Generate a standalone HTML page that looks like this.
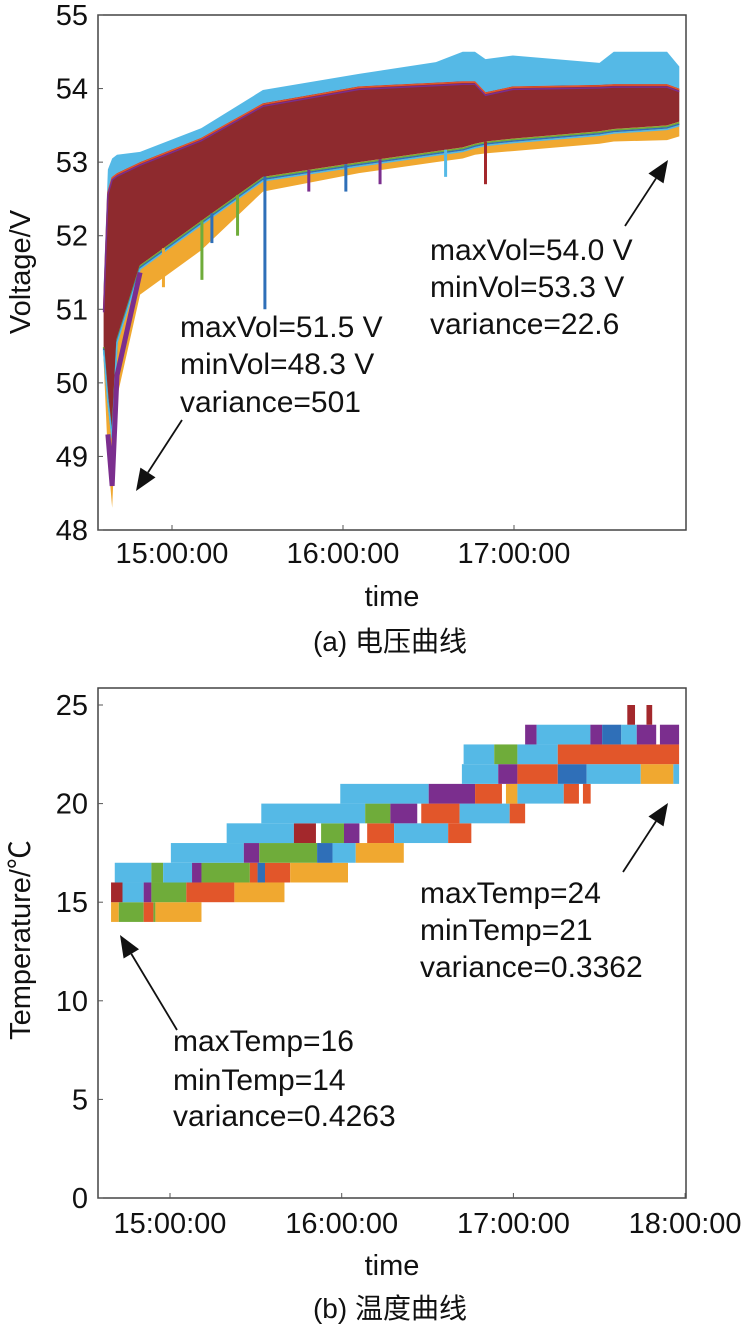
<!DOCTYPE html>
<html><head><meta charset="utf-8"><style>
body{margin:0;background:#fff;width:746px;height:1331px;overflow:hidden}
svg text{font-family:"Liberation Sans","Noto Sans CJK SC",sans-serif;fill:#111}
</style></head><body>
<svg id="s" width="746" height="1331"></svg>
<script>
// ---- Voltage chart data (minutes after 14:00) ----
const vTime   = [36,37.5,39,40.7,48.8,70.2,91.9,125.6,152.6,162,166.3,170,179.6,210,215,233.7,238];
const vUpper  = [51.3,52.9,53.05,53.1,53.14,53.46,53.98,54.2,54.36,54.5,54.5,54.4,54.45,54.35,54.5,54.5,54.3];
const vBandTop= [51.0,52.6,52.8,52.85,53.0,53.33,53.8,54.03,54.08,54.1,54.1,53.95,54.03,54.05,54.06,54.06,54.0];
const vBandBot= [50.5,49.8,49.3,50.6,51.6,52.2,52.8,53.0,53.15,53.2,53.25,53.28,53.32,53.42,53.45,53.5,53.55];
const vLower  = [50.3,49.0,48.3,49.8,51.2,51.8,52.6,52.85,53.0,53.05,53.1,53.12,53.15,53.25,53.28,53.3,53.35];
const spikeT  = [57,70.5,74,83,92.6,108,121,133,156,170];
const spikeV  = [51.3,51.4,51.9,52.0,51.0,52.6,52.6,52.7,52.8,52.7];
const spikeC  = ["#f0a830","#6fac3a","#2f6fb8","#6fac3a","#2f6fb8","#7b2e8e","#2f6fb8","#7b2e8e","#55b9e6","#a3282c"];
const vTicks  = [48,49,50,51,52,53,54,55];
const tTicksA = ["15:00:00","16:00:00","17:00:00"];
// ---- Temperature chart data: [startMin, endMin, colorIndex] per 1°C row ----
const tempColors=["#55b9e6","#f0a830","#6fac3a","#e2562a","#a3282c","#7b2e8e","#2f6fb8"];
const tempLevels=[14,15,16,17,18,19,20,21,22,23,24];
const tempRows=[
 [[39.4,42.1,1],[42.1,50.8,2],[50.8,54.2,3],[54.2,54.9,2],[54.9,71.0,1]],
 [[39.4,43.4,4],[43.4,50.8,0],[50.8,53.5,5],[53.5,65.7,2],[65.7,82.5,3],[82.5,100,1]],
 [[40.7,53.5,0],[53.5,57.6,2],[57.6,67.7,0],[67.7,71,5],[71,87.9,2],[87.9,90.6,3],[90.6,93.2,6],[93.2,102,3],[102,122.2,1]],
 [[60.3,85.8,0],[85.8,91.2,5],[91.2,111.4,2],[111.4,116.8,6],[116.8,124.9,0],[124.9,141.7,1]],
 [[79.8,103.3,0],[103.3,111,4],[112.8,120.8,2],[120.8,126.2,5],[128.9,138.3,3],[138.3,157.2,0],[157.2,165.3,3]],
 [[91.9,128.2,0],[128.2,137,2],[137,146.4,5],[147.8,161.2,3],[161.2,178.7,0],[178.7,184.1,3]],
 [[119.5,150.4,0],[150.4,166.6,5],[166.6,176,3],[177.4,181.4,1],[181.4,197.6,0],[197.6,202.9,3],[204.3,207,3]],
 [[162,174.7,0],[174.7,181.4,5],[181.4,195.5,3],[195.5,205.6,6],[205.6,224.5,0],[224.5,235.9,1],[235.9,237.9,0]],
 [[162.6,173.3,0],[173.3,181.4,2],[181.4,195.5,0],[195.5,237.9,3]],
 [[184.1,188.1,5],[188.1,206.9,0],[206.9,211,5],[211,217.7,6],[217.7,223.1,0],[223.1,229.9,5],[231.2,237.9,5]],
 [[219.8,222.5,4],[226.5,228.5,4]]
];
const tempTicks=[0,5,10,15,20,25];
const tTicksB=["15:00:00","16:00:00","17:00:00","18:00:00"];

const NS="http://www.w3.org/2000/svg", S=document.getElementById('s');
const FS=29, AFS=30;
function el(t,a,p){const e=document.createElementNS(NS,t);for(const k in a)e.setAttribute(k,a[k]);(p||S).appendChild(e);return e;}
function txt(x,y,s,size,anchor,p){const e=el('text',{x:x,y:y,'font-size':size,'text-anchor':anchor||'start'},p);e.textContent=s;return e;}

// ===== Chart A =====
const A={l:98,r:686,t:15,b:530};
const xA=m=>172+(m-60)/60*171;
const yA=v=>A.b-(v-48)/7*(A.b-A.t);
const gA=el('g',{});


function band(up,lo,color,name){
  let pts=vTime.map((t,i)=>xA(t)+','+yA(up[i]));
  pts=pts.concat(vTime.slice().reverse().map((t,j)=>{const i=vTime.length-1-j;return xA(t)+','+yA(lo[i]);}));
  const p=el('polygon',{points:pts.join(' '),fill:color},gA);
  
  
}
band(vUpper,vBandTop,"#55b9e6","voltage-upper-band");
band(vBandBot,vLower,"#f0a830","voltage-lower-band");
band(vBandTop,vBandBot,"#8e2a2e","voltage-main-band");
const edgeCols=["#e2562a","#7b2e8e"];
edgeCols.forEach((c,k)=>{const l=el('polyline',{points:vTime.map((t,i)=>xA(t)+','+(yA(vBandTop[i])+1+k*2)).join(' '),fill:'none',stroke:c,'stroke-width':1.5},gA);
 });
["#6fac3a","#2f6fb8","#55b9e6"].forEach((c,k)=>{const l=el('polyline',{points:vTime.map((t,i)=>xA(t)+','+(yA(vBandBot[i])+1+k*1.5)).join(' '),fill:'none',stroke:c,'stroke-width':1.5},gA);
 });
const pv=el('polyline',{points:vTime.slice(1,5).map((t,i)=>xA(t)+','+yA(vLower[i+1]+0.3)).join(' '),fill:'none',stroke:'#7b2e8e','stroke-width':5},gA);

spikeT.forEach((t,i)=>{
  let k=0;while(k<vTime.length-1&&vTime[k+1]<t)k++;
  const f=(t-vTime[k])/(vTime[k+1]-vTime[k]);const base=vBandBot[k]+(vBandBot[k+1]-vBandBot[k])*f;
  const s=el('line',{x1:xA(t),x2:xA(t),y1:yA(base),y2:yA(spikeV[i]),stroke:spikeC[i],'stroke-width':3},gA);
  
});
const fa=el('rect',{x:A.l,y:A.t,width:A.r-A.l,height:A.b-A.t,fill:'none',stroke:'#444','stroke-width':1.5});

vTicks.forEach(v=>{const y=yA(v);
  const tk=el('line',{x1:A.l,x2:A.l+5,y1:y,y2:y,stroke:'#555'});
  const t=txt(88,y+10,String(v),FS,'end');});
tTicksA.forEach((s,i)=>{const x=xA(60+i*60);
  const tk=el('line',{x1:x,x2:x,y1:A.b,y2:A.b-5,stroke:'#555'});
  const t=txt(x,563,s,FS,'middle');});
let t=txt(392,606,'time',FS,'middle');
t=txt(0,0,'Voltage/V',FS,'middle');t.setAttribute('transform','translate(30,272) rotate(-90)');
t=txt(390,651,'(a) 电压曲线',FS-1,'middle');
[['maxVol=51.5 V',337],['minVol=48.3 V',374],['variance=501',412]].forEach(a=>{const e=txt(180,a[1],a[0],AFS);});
[['maxVol=54.0 V',260],['minVol=53.3 V',297],['variance=22.6',334]].forEach(a=>{const e=txt(430,a[1],a[0],AFS);});
function arrow(x1,y1,x2,y2,name){
  const g=el('g',{});
  const ang=Math.atan2(y2-y1,x2-x1),L=22,W=9;
  const bx=x2-L*Math.cos(ang),by=y2-L*Math.sin(ang);
  el('line',{x1:x1,y1:y1,x2:bx,y2:by,stroke:'#111','stroke-width':1.8},g);
  el('polygon',{points:`${x2},${y2} ${bx-W*Math.sin(ang)},${by+W*Math.cos(ang)} ${bx+W*Math.sin(ang)},${by-W*Math.cos(ang)}`,fill:'#111'},g);
}
arrow(182,420,136,491,'arrow-start-a');
arrow(625,226,668,160,'arrow-end-a');

// ===== Chart B =====
const B={l:98,r:686,t:688,b:1198};
const xB=m=>170+(m-60)/60*171.7;
const yB=v=>B.b-v*19.72;
const gB=el('g',{});


tempRows.forEach((row,ri)=>{const lv=tempLevels[ri];
  row.forEach(sg=>{const r=el('rect',{x:xB(sg[0]),y:yB(lv+1),width:xB(sg[1])-xB(sg[0]),height:yB(lv)-yB(lv+1),fill:tempColors[sg[2]]},gB);
    });
});
const fb=el('rect',{x:B.l,y:B.t,width:B.r-B.l,height:B.b-B.t,fill:'none',stroke:'#444','stroke-width':1.5});

tempTicks.forEach(v=>{const y=yB(v);
  const tk=el('line',{x1:B.l,x2:B.l+5,y1:y,y2:y,stroke:'#555'});
  const e=txt(88,y+10,String(v),FS,'end');});
tTicksB.forEach((s,i)=>{const x=xB(60+i*60);
  const tk=el('line',{x1:x,x2:x,y1:B.b,y2:B.b-5,stroke:'#555'});
  const e=txt(x,1233,s,FS,'middle');});
t=txt(392,1275,'time',FS,'middle');
t=txt(0,0,'Temperature/℃',FS,'middle');t.setAttribute('transform','translate(30,940) rotate(-90)');
t=txt(390,1318,'(b) 温度曲线',FS-1,'middle');
[['maxTemp=16',1051],['minTemp=14',1090],['variance=0.4263',1126]].forEach(a=>{const e=txt(173,a[1],a[0],AFS);});
[['maxTemp=24',903],['minTemp=21',940],['variance=0.3362',977]].forEach(a=>{const e=txt(420,a[1],a[0],AFS);});
arrow(177,1030,120,935,'arrow-start-b');
arrow(623,872,668,803,'arrow-end-b');
</script>
</body></html>
